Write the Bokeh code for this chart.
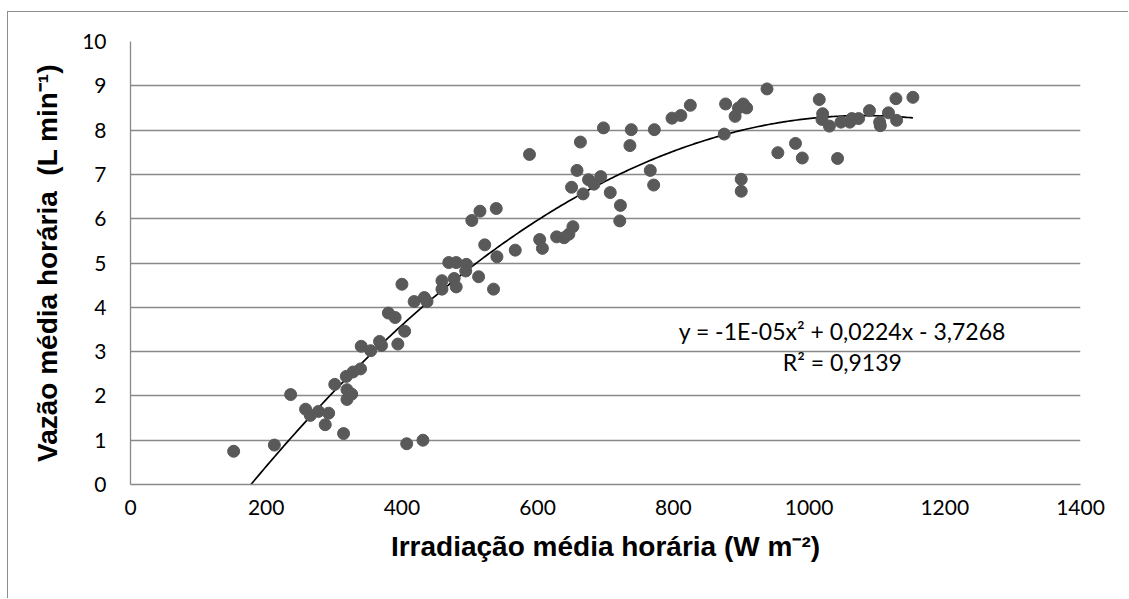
import numpy as np
from bokeh.plotting import figure
from bokeh.models import Range1d, SingleIntervalTicker, Label
from bokeh.embed import file_html
from bokeh.resources import INLINE

# Data
irradiacao = [152, 212, 236, 258, 265, 277, 287, 292, 301, 314,
              318, 319, 319, 326, 328, 339, 340, 354, 367, 370,
              380, 390, 394, 404, 400, 407, 418, 431, 433, 437,
              459, 459, 469, 480, 477, 480, 495, 494, 503, 513,
              515, 522, 535, 539, 540, 567, 588, 603, 607, 628,
              639, 646, 650, 652, 658, 663, 667, 675, 683, 693,
              697, 707, 721, 722, 736, 738, 766, 771, 772, 798,
              811, 825, 875, 877, 891, 896, 900, 900, 903, 908,
              938, 954, 980, 990, 1015, 1019, 1020, 1030, 1042, 1047,
              1060, 1063, 1073, 1089, 1104, 1105, 1117, 1128, 1129, 1153]
vazao = [0.75, 0.89, 2.03, 1.70, 1.56, 1.65, 1.35, 1.61, 2.26, 1.15,
         2.44, 2.14, 1.92, 2.04, 2.54, 2.61, 3.12, 3.02, 3.23, 3.14,
         3.87, 3.77, 3.17, 3.46, 4.52, 0.92, 4.13, 1.00, 4.22, 4.13,
         4.60, 4.41, 5.01, 5.01, 4.65, 4.46, 4.97, 4.82, 5.96, 4.69,
         6.17, 5.41, 4.41, 6.23, 5.14, 5.29, 7.45, 5.53, 5.33, 5.59,
         5.57, 5.65, 6.71, 5.82, 7.09, 7.73, 6.56, 6.88, 6.78, 6.95,
         8.05, 6.59, 5.95, 6.30, 7.65, 8.01, 7.09, 6.76, 8.01, 8.27,
         8.33, 8.56, 7.91, 8.59, 8.31, 8.50, 6.89, 6.62, 8.59, 8.50,
         8.93, 7.49, 7.70, 7.37, 8.69, 8.24, 8.37, 8.09, 7.36, 8.18,
         8.18, 8.26, 8.26, 8.44, 8.18, 8.10, 8.39, 8.71, 8.22, 8.74]

x_ticks_interval = 200
y_ticks_interval = 1
equation_text = "y = -1E-05x\u00b2 + 0,0224x - 3,7268"
r2_text = "R\u00b2 = 0,9139"
x_title = "Irradia\u00e7\u00e3o m\u00e9dia hor\u00e1ria (W m\u207b\u00b2)"
y_title = "Vaz\u00e3o m\u00e9dia hor\u00e1ria \u00a0(L min\u207b\u00b9)"

# Polynomial (2nd order) trend line fitted to the data
coef = np.polyfit(irradiacao, vazao, 2)
xt = np.linspace(min(irradiacao), max(irradiacao), 300)
yt = np.polyval(coef, xt)

# the figure is offset by a margin so that its CSS border forms the outer chart frame
off_left, off_top = 7, 11
p = figure(width=1129 - off_left - 1, height=599 - off_top - 1,
           output_backend="svg", toolbar_location=None,
           x_range=Range1d(0, 1400), y_range=Range1d(0, 10),
           min_border_left=130 - off_left - 1, min_border_right=49,
           min_border_top=41 - off_top - 1, min_border_bottom=115,
           background_fill_color="white", border_fill_color="white")
p.margin = (off_top, 0, 0, off_left)
p.styles = {"border-left": "1px solid #8c8c8c", "border-top": "1px solid #8c8c8c"}
p.outline_line_color = None

grey = "#898989"
p.xgrid.visible = False
p.ygrid.ticker = SingleIntervalTicker(interval=y_ticks_interval)
p.ygrid.grid_line_color = grey
p.ygrid.grid_line_width = 1.3

p.xaxis.ticker = SingleIntervalTicker(interval=x_ticks_interval)
p.yaxis.ticker = SingleIntervalTicker(interval=y_ticks_interval)
for ax in (p.xaxis, p.yaxis):
    ax.axis_line_color = grey
    ax.axis_line_width = 1.3
    ax.major_tick_out = 0
    ax.major_tick_in = 0
    ax.minor_tick_out = 0
    ax.minor_tick_in = 0
    ax.major_label_text_font = "Lato"
    ax.major_label_text_font_size = "21px"
    ax.major_label_text_color = "black"
    ax.axis_label_text_font = "Liberation Sans"
    ax.axis_label_text_font_style = "bold"
    ax.axis_label_text_font_size = "28px"
    ax.axis_label_text_color = "black"

p.xaxis.major_label_standoff = 15
p.yaxis.major_label_standoff = 24
p.xaxis.axis_label = x_title
p.yaxis.axis_label = y_title
p.xaxis.axis_label_standoff = 13
p.yaxis.axis_label_standoff = 16

p.line(xt, yt, line_color="black", line_width=1.7)
p.scatter(irradiacao, vazao, size=12, fill_color="#595959", line_color="#595959")

eq_x = 1049
p.add_layout(Label(x=eq_x, y=3.46, text=equation_text, text_align="center",
                   text_baseline="alphabetic", text_font="Lato", text_font_size="23px",
                   text_color="black"))
p.add_layout(Label(x=eq_x, y=2.76, text=r2_text, text_align="center",
                   text_baseline="alphabetic", text_font="Lato", text_font_size="23px",
                   text_color="black"))

open("out.html", "w").write(file_html(p, INLINE))
